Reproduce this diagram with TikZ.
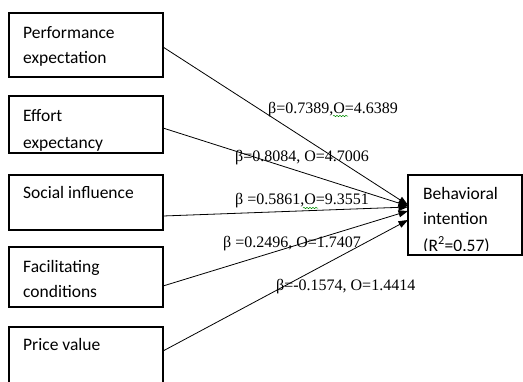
\documentclass[tikz,border=0pt]{standalone}
\usepackage{fontspec}
\setmainfont{Carlito}
\newfontfamily\lblfont{Liberation Serif}
\usetikzlibrary{calc,arrows.meta,decorations.pathmorphing}
\begin{document}
\begin{tikzpicture}[x=1pt,y=-1pt,
  box/.style={draw, line width=1.6pt, anchor=north west, inner sep=0pt, outer sep=0pt},
  boxtext/.style={anchor=base west, inner sep=0pt, font=\fontsize{17.5}{21}\selectfont},
  lbl/.style={anchor=base west, inner sep=0pt, font=\lblfont\fontsize{16}{19}\selectfont},
  conn/.style={line width=0.8pt, -{Triangle[length=9.5pt,width=7pt]}},
  squig/.style={draw=green!55!black, line width=0.5pt, decorate, decoration={snake, amplitude=0.7pt, segment length=3pt}}]
\useasboundingbox (0,0) rectangle (523,381);
\clip (0,0) rectangle (523,381);

% boxes
\node[box, minimum width=154pt, minimum height=64pt] (pe) at (9,13) {};
\node[box, minimum width=154pt, minimum height=57pt] (ee) at (9,96) {};
\node[box, minimum width=154pt, minimum height=55pt] (si) at (9,175) {};
\node[box, minimum width=154pt, minimum height=60pt] (fc) at (9,247) {};
\node[box, minimum width=154pt, minimum height=70pt] (pv) at (9,327) {};
\node[box, minimum width=114pt, minimum height=80pt] (bi) at (408,175) {};

% box texts
\node[boxtext] (pet1) at (23,38) {Performance};
\node[boxtext] (pet2) at (23,63) {expectation};
\begin{scope}
\clip (9,96) rectangle (163,150);
\node[boxtext] (eet1) at (23,121) {Effort};
\node[boxtext] (eet2) at (23,148) {expectancy};
\end{scope}
\node[boxtext] (sit1) at (23,198) {Social influence};
\node[boxtext] (fct1) at (23,272) {Facilitating};
\node[boxtext] (fct2) at (23,297) {conditions};
\node[boxtext] (pvt1) at (23,350) {Price value};
\begin{scope}
\clip (408,175) rectangle (522,250);
\node[boxtext] (bit1) at (423,199) {Behavioral};
\node[boxtext] (bit2) at (423,224) {intention};
\node[boxtext] (bit3) at (423,251) {(R\textsuperscript{2}=0.57)};
\end{scope}

% connectors
\draw[conn] ($(pe.north east)+(0,34)$) -- ($(bi.north west)+(0,30)$);
\draw[conn] ($(ee.north east)+(0,32)$) -- ($(bi.north west)+(0,31)$);
\draw[conn] ($(si.north east)+(0,41)$) -- ($(bi.north west)+(0,32)$);
\draw[conn] ($(fc.north east)+(0,39)$) -- ($(bi.north west)+(0,36)$);
\draw[conn] ($(pv.north east)+(0,24)$) -- ($(bi.north west)+(0,45)$);

% labels
\node[lbl] (l1) at (268,113) {β=0.7389,O=4.6389};
\node[lbl] (l2) at (235,161) {β=0.8084, O=4.7006};
\node[lbl] (l3) at (235,204) {β =0.5861,O=9.3551};
\node[lbl] (l4) at (223,247) {β =0.2496, O=1.7407};
\node[lbl] (l5) at (276,290) {β=-0.1574, O=1.4414};

% spell-check squiggles
\draw[squig] (333,116) -- (348,116);
\draw[squig] (303,208) -- (318,208);
\end{tikzpicture}
\end{document}
